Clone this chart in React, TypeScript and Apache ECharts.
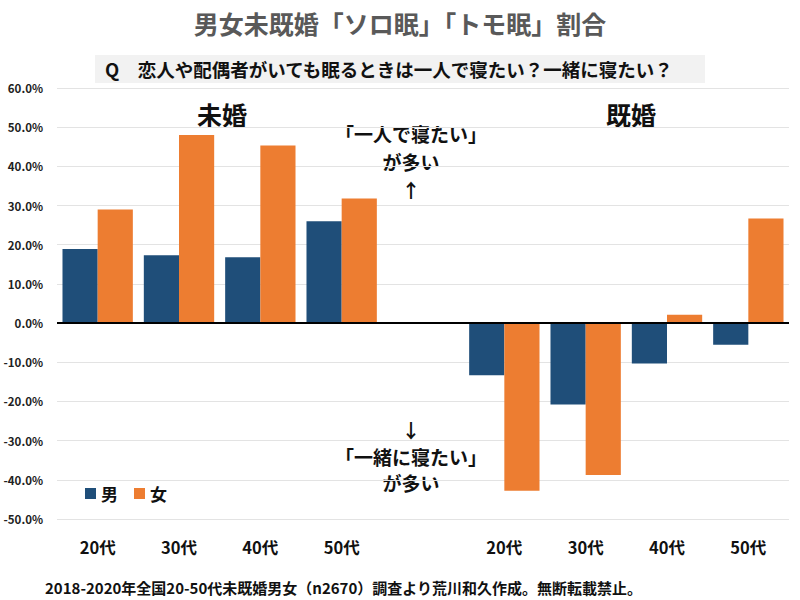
import React, { useEffect, useRef } from "react";
import * as echarts from "echarts";

const categories = ["20代", "30代", "40代", "50代", "", "20代", "30代", "40代", "50代"];
const maleValues = [18.9, 17.3, 16.8, 26.0, null, -13.3, -20.8, -10.3, -5.5];
const femaleValues = [29.0, 48.0, 45.3, 31.8, null, -42.8, -38.8, 2.1, 26.7];
const seriesNames = ["男", "女"];
const yTicks = { min: -50, max: 60, interval: 10 };

const FONT = "'Noto Sans CJK JP', 'Noto Sans', sans-serif";

export default function App() {
  const ref = useRef<HTMLDivElement>(null);
  useEffect(() => {
    if (!ref.current) return;
    const chart = echarts.init(ref.current, null, { renderer: "svg" });
    const annoStyle = { fontSize: 19, fontWeight: "bold", fill: "#111", fontFamily: FONT, textAlign: "center", textVerticalAlign: "middle" };
    chart.setOption({
      animation: false,
      backgroundColor: "#fff",
      textStyle: { fontFamily: FONT },
      grid: { left: 57, right: 11, top: 88, bottom: 81 },
      legend: {
        data: seriesNames,
        left: 80,
        top: 480,
        icon: "rect",
        itemWidth: 11,
        itemHeight: 11,
        itemGap: 16,
        textStyle: { fontSize: 17, fontWeight: "bold", color: "#111", fontFamily: FONT },
      },
      xAxis: {
        type: "category",
        data: categories,
        axisLine: { show: false, onZero: false },
        axisTick: { show: false },
        axisLabel: { margin: 20, fontSize: 16.5, fontWeight: "bold", color: "#111", fontFamily: FONT },
      },
      yAxis: {
        type: "value",
        min: yTicks.min,
        max: yTicks.max,
        interval: yTicks.interval,
        axisLine: { show: false },
        axisTick: { show: false },
        splitLine: { lineStyle: { color: "#e3e3e3", width: 1 } },
        axisLabel: {
          margin: 14,
          fontSize: 11.5,
          fontWeight: "bold",
          color: "#222",
          fontFamily: FONT,
          formatter: (v: number) => `${v.toFixed(1)}%`,
        },
      },
      series: [
        {
          name: seriesNames[0],
          type: "bar",
          data: maleValues,
          itemStyle: { color: "#1f4e79" },
          barGap: "0%",
          barCategoryGap: "13.5%",
          markLine: {
            silent: true,
            symbol: "none",
            label: { show: false },
            lineStyle: { color: "#000", width: 2, type: "solid" },
            data: [{ yAxis: 0 }],
          },
        },
        {
          name: seriesNames[1],
          type: "bar",
          data: femaleValues,
          itemStyle: { color: "#ed7d31" },
          barGap: "0%",
          barCategoryGap: "13.5%",
        },
      ],
      graphic: [
        {
          type: "text",
          x: 400,
          y: 23,
          style: { text: "男女未既婚「ソロ眠」「トモ眠」割合", fontSize: 25, fontWeight: "bold", fill: "#595959", fontFamily: FONT, textAlign: "center", textVerticalAlign: "middle" },
        },
        {
          type: "rect",
          shape: { x: 95, y: 55, width: 610, height: 28 },
          style: { fill: "#f2f2f2" },
        },
        {
          type: "text",
          x: 105,
          y: 69,
          style: { text: "Q　恋人や配偶者がいても眠るときは一人で寝たい？一緒に寝たい？", fontSize: 18.5, fontWeight: "bold", fill: "#111", fontFamily: FONT, textVerticalAlign: "middle" },
        },
        {
          type: "text",
          x: 222,
          y: 114,
          style: { text: "未婚", fontSize: 25, fontWeight: "bold", fill: "#111", fontFamily: FONT, textAlign: "center", textVerticalAlign: "middle" },
        },
        {
          type: "text",
          x: 631,
          y: 114,
          style: { text: "既婚", fontSize: 25, fontWeight: "bold", fill: "#111", fontFamily: FONT, textAlign: "center", textVerticalAlign: "middle" },
        },
        { type: "text", x: 411, y: 161, style: { ...annoStyle, lineHeight: 28, text: "「一人で寝たい」\nが多い\n↑" } },
        { type: "text", x: 411, y: 456, style: { ...annoStyle, lineHeight: 26.5, text: "↓\n「一緒に寝たい」\nが多い" } },
        {
          type: "text",
          x: 45,
          y: 587,
          style: { text: "2018-2020年全国20-50代未既婚男女（n2670）調査より荒川和久作成。無断転載禁止。", fontSize: 15, fontWeight: "bold", fill: "#111", fontFamily: FONT, textVerticalAlign: "middle" },
        },
      ],
    });
    return () => chart.dispose();
  }, []);
  return <div ref={ref} style={{ width: 800, height: 600, position: "absolute", left: 0, top: 0 }} />;
}
